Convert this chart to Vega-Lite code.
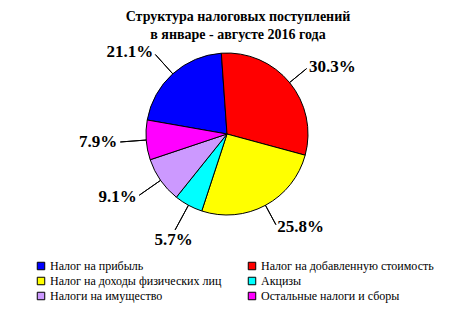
{
  "$schema": "https://vega.github.io/schema/vega-lite/v6.json",
  "width": 448,
  "height": 172,
  "autosize": {"type": "none"},
  "padding": {"left": 3, "top": 48, "right": 0, "bottom": 92},
  "background": "white",
  "title": {
    "text": ["Структура налоговых поступлений", "в январе - августе 2016 года"],
    "font": "Liberation Serif",
    "fontSize": 14,
    "fontWeight": "bold",
    "lineHeight": 18,
    "anchor": "middle",
    "color": "black",
    "dx": 11,
    "offset": 1
  },
  "data": {
    "values": [
      {"tax": "Налог на прибыль", "share": 0.211, "order": 6},
      {"tax": "Налог на добавленную стоимость", "share": 0.303, "order": 1},
      {"tax": "Налог на доходы физических лиц", "share": 0.258, "order": 2},
      {"tax": "Акцизы", "share": 0.057, "order": 3},
      {"tax": "Налоги на имущество", "share": 0.091, "order": 4},
      {"tax": "Остальные налоги и сборы", "share": 0.079, "order": 5}
    ]
  },
  "encoding": {
    "theta": {"field": "share", "type": "quantitative", "stack": true, "scale": {"range": [-0.07, 6.2132]}},
    "order": {"field": "order", "type": "quantitative", "sort": "ascending"}
  },
  "layer": [
    {
      "mark": {"type": "arc", "radius": 81, "stroke": "black", "strokeWidth": 1},
      "encoding": {
        "color": {
          "field": "tax",
          "type": "nominal",
          "scale": {
            "domain": ["Налог на прибыль", "Налог на добавленную стоимость", "Налог на доходы физических лиц", "Акцизы", "Налоги на имущество", "Остальные налоги и сборы"],
            "range": ["#0000FF", "#FF0000", "#FFFF00", "#00FFFF", "#CC99FF", "#FF00FF"]
          },
          "legend": {
            "title": null,
            "orient": "none",
            "legendX": 32,
            "legendY": 212,
            "columns": 2,
            "direction": "horizontal",
            "columnPadding": 24,
            "rowPadding": 3,
            "symbolType": "square",
            "symbolSize": 56,
            "symbolStrokeColor": "black",
            "symbolStrokeWidth": 1,
            "labelFont": "Liberation Serif",
            "labelFontSize": 12,
            "labelColor": "black",
            "labelOffset": 3,
            "labelLimit": 300
          }
        }
      }
    },
    {
      "mark": {"type": "arc", "radius": 103, "radius2": 81, "padAngle": 3, "fill": "white", "fillOpacity": 0, "stroke": "black", "strokeWidth": 1},
      "encoding": {
        "strokeOpacity": {"condition": {"test": "datum.tax == 'Налог на добавленную стоимость' || datum.tax == 'Налог на доходы физических лиц'", "value": 1}, "value": 0}
      }
    },
    {
      "mark": {"type": "arc", "radius": 107, "radius2": 81, "padAngle": 3, "fill": "white", "fillOpacity": 0, "stroke": "black", "strokeWidth": 1},
      "encoding": {
        "strokeOpacity": {"condition": {"test": "datum.tax == 'Налог на прибыль' || datum.tax == 'Налоги на имущество' || datum.tax == 'Остальные налоги и сборы'", "value": 1}, "value": 0}
      }
    },
    {
      "mark": {"type": "arc", "radius": 109, "radius2": 81, "padAngle": 3, "fill": "white", "fillOpacity": 0, "stroke": "black", "strokeWidth": 1},
      "encoding": {
        "strokeOpacity": {"condition": {"test": "datum.tax == 'Акцизы'", "value": 1}, "value": 0}
      }
    },
    {
      "mark": {"type": "text", "radius": 106, "align": "left", "baseline": "middle", "font": "Liberation Serif", "fontSize": 17, "fontWeight": "bold", "color": "black"},
      "encoding": {
        "text": {"field": "share", "type": "quantitative", "format": ".1%"},
        "opacity": {"condition": {"test": "datum.tax == 'Налог на добавленную стоимость' || datum.tax == 'Налог на доходы физических лиц'", "value": 1}, "value": 0}
      }
    },
    {
      "mark": {"type": "text", "radius": 110, "align": "right", "baseline": "middle", "font": "Liberation Serif", "fontSize": 17, "fontWeight": "bold", "color": "black"},
      "encoding": {
        "text": {"field": "share", "type": "quantitative", "format": ".1%"},
        "opacity": {"condition": {"test": "datum.tax == 'Налог на прибыль' || datum.tax == 'Налоги на имущество' || datum.tax == 'Остальные налоги и сборы'", "value": 1}, "value": 0}
      }
    },
    {
      "mark": {"type": "text", "radius": 112, "align": "center", "baseline": "top", "font": "Liberation Serif", "fontSize": 17, "fontWeight": "bold", "color": "black"},
      "encoding": {
        "text": {"field": "share", "type": "quantitative", "format": ".1%"},
        "opacity": {"condition": {"test": "datum.tax == 'Акцизы'", "value": 1}, "value": 0}
      }
    }
  ],
  "config": {
    "view": {"stroke": null},
    "font": "Liberation Serif",
    "legend": {"labelFont": "Liberation Serif", "labelFontSize": 12, "labelColor": "black"}
  }
}
